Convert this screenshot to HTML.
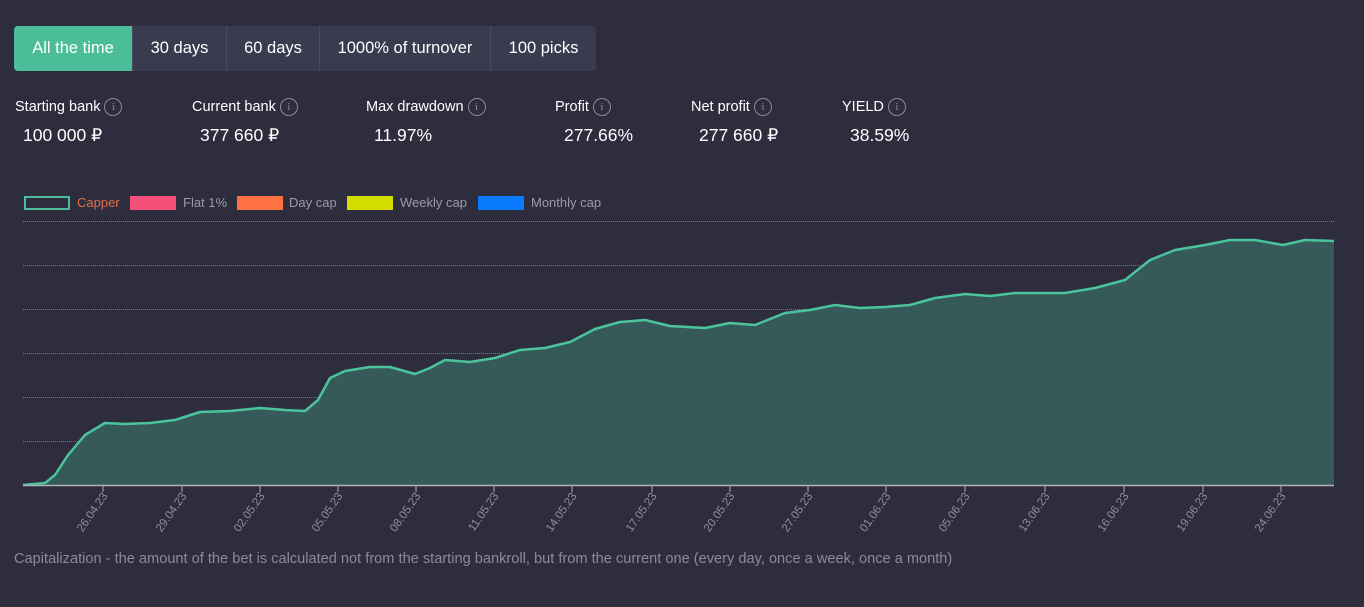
<!DOCTYPE html>
<html><head><meta charset="utf-8"><style>
body{margin:0;width:1364px;height:607px;background:#2d2d3e;font-family:"Liberation Sans",sans-serif;position:relative;overflow:hidden;color:#fff}
.tabs{position:absolute;left:14px;top:26px;height:45px;width:582px;background:#3a3b4e;border-radius:4px;display:flex;overflow:hidden}
.tab{height:45px;line-height:45px;font-size:16.5px;color:#fff;text-align:center;border-right:1px solid #4a4b5e;box-sizing:border-box}
.tab.on{background:#4bbd99}
.lab{position:absolute;top:98px;font-size:14.5px;color:#fff;white-space:nowrap;height:18px;display:flex;align-items:center}
.i{display:block;width:18px;height:18px;border:1px solid #8a8a9a;border-radius:50%;box-sizing:border-box;font-size:11px;line-height:16px;text-align:center;color:#8a8a9a;margin-left:4px;font-family:"Liberation Serif",serif}
.val{position:absolute;top:125px;font-size:17.5px;color:#fff;white-space:nowrap}
.leg{position:absolute;top:195px;font-size:13px;color:#9a9aa8;white-space:nowrap}
.sw{position:absolute;top:196px;width:46px;height:14px;box-sizing:border-box}
.foot{position:absolute;left:14px;top:551px;font-size:14.6px;color:#8a8a98}
</style></head><body>
<div class="tabs">
<div class="tab on" style="width:119px">All the time</div>
<div class="tab" style="width:94px">30 days</div>
<div class="tab" style="width:93px">60 days</div>
<div class="tab" style="width:171px">1000% of turnover</div>
<div class="tab" style="width:105px;border:none">100 picks</div>
</div>
<div class="lab" style="left:15px">Starting bank<span class="i">i</span></div>
<div class="lab" style="left:192px">Current bank<span class="i">i</span></div>
<div class="lab" style="left:366px">Max drawdown<span class="i">i</span></div>
<div class="lab" style="left:555px">Profit<span class="i">i</span></div>
<div class="lab" style="left:691px">Net profit<span class="i">i</span></div>
<div class="lab" style="left:842px">YIELD<span class="i">i</span></div>
<div class="val" style="left:23px">100 000 ₽</div>
<div class="val" style="left:200px">377 660 ₽</div>
<div class="val" style="left:374px">11.97%</div>
<div class="val" style="left:564px">277.66%</div>
<div class="val" style="left:699px">277 660 ₽</div>
<div class="val" style="left:850px">38.59%</div>

<div class="sw" style="left:24px;border:2px solid #4bbd99;background:#2d2d3e"></div><div class="leg" style="left:77px;color:#e0714a">Capper</div>
<div class="sw" style="left:130px;background:#f4507a"></div><div class="leg" style="left:183px">Flat 1%</div>
<div class="sw" style="left:237px;background:#ff7043"></div><div class="leg" style="left:289px">Day cap</div>
<div class="sw" style="left:347px;background:#d4dc00"></div><div class="leg" style="left:400px">Weekly cap</div>
<div class="sw" style="left:478px;background:#0a7aff"></div><div class="leg" style="left:531px">Monthly cap</div>

<svg style="position:absolute;left:0;top:0" width="1364" height="607">
<g stroke="#7a7a8a" stroke-dasharray="1,1" stroke-width="1">
<line x1="23" x2="1334" y1="221.5" y2="221.5"/><line x1="23" x2="1334" y1="265.5" y2="265.5"/><line x1="23" x2="1334" y1="309.5" y2="309.5"/><line x1="23" x2="1334" y1="353.5" y2="353.5"/><line x1="23" x2="1334" y1="397.5" y2="397.5"/><line x1="23" x2="1334" y1="441.5" y2="441.5"/>
</g>
<path fill="#365a5a" stroke="none" d="M23,485 L45,483 L55,475 L68,455 L85,435 L105,423 L125,424 L150,423 L175,420 L200,412 L230,411 L260,408 L285,410 L305,411 L318,400 L330,378 L345,371 L370,367 L390,367 L415,374 L430,368 L445,360 L470,362 L495,358 L520,350 L545,348 L570,342 L595,329 L620,322 L645,320 L670,326 L705,328 L730,323 L755,325 L785,313 L810,310 L835,305 L860,308 L885,307 L910,305 L935,298 L965,294 L990,296 L1015,293 L1040,293 L1065,293 L1095,288 L1125,280 L1150,260 L1175,250 L1205,245 L1230,240 L1255,240 L1283,245 L1305,240 L1334,241 L1334,485 Z"/>
<polyline fill="none" stroke="#4bc49c" stroke-width="2.5" stroke-linejoin="round" points="23,485 45,483 55,475 68,455 85,435 105,423 125,424 150,423 175,420 200,412 230,411 260,408 285,410 305,411 318,400 330,378 345,371 370,367 390,367 415,374 430,368 445,360 470,362 495,358 520,350 545,348 570,342 595,329 620,322 645,320 670,326 705,328 730,323 755,325 785,313 810,310 835,305 860,308 885,307 910,305 935,298 965,294 990,296 1015,293 1040,293 1065,293 1095,288 1125,280 1150,260 1175,250 1205,245 1230,240 1255,240 1283,245 1305,240 1334,241"/>
<line x1="23" x2="1334" y1="485.5" y2="485.5" stroke="#b0b0bc" stroke-width="1.5"/>
<g stroke="#b0b0bc" stroke-width="1">
<line x1="103" x2="103" y1="485" y2="492"/><line x1="182" x2="182" y1="485" y2="492"/><line x1="260" x2="260" y1="485" y2="492"/><line x1="338" x2="338" y1="485" y2="492"/><line x1="416" x2="416" y1="485" y2="492"/><line x1="494" x2="494" y1="485" y2="492"/><line x1="572" x2="572" y1="485" y2="492"/><line x1="652" x2="652" y1="485" y2="492"/><line x1="730" x2="730" y1="485" y2="492"/><line x1="808" x2="808" y1="485" y2="492"/><line x1="886" x2="886" y1="485" y2="492"/><line x1="965" x2="965" y1="485" y2="492"/><line x1="1045" x2="1045" y1="485" y2="492"/><line x1="1124" x2="1124" y1="485" y2="492"/><line x1="1203" x2="1203" y1="485" y2="492"/><line x1="1281" x2="1281" y1="485" y2="492"/>
</g>
<g fill="#8e8e9c" font-size="11.5" font-family="Liberation Sans,sans-serif" text-anchor="end">
<text transform="translate(108,496) rotate(-55)">26.04.23</text>
<text transform="translate(187,496) rotate(-55)">29.04.23</text>
<text transform="translate(265,496) rotate(-55)">02.05.23</text>
<text transform="translate(343,496) rotate(-55)">05.05.23</text>
<text transform="translate(421,496) rotate(-55)">08.05.23</text>
<text transform="translate(499,496) rotate(-55)">11.05.23</text>
<text transform="translate(577,496) rotate(-55)">14.05.23</text>
<text transform="translate(657,496) rotate(-55)">17.05.23</text>
<text transform="translate(735,496) rotate(-55)">20.05.23</text>
<text transform="translate(813,496) rotate(-55)">27.05.23</text>
<text transform="translate(891,496) rotate(-55)">01.06.23</text>
<text transform="translate(970,496) rotate(-55)">05.06.23</text>
<text transform="translate(1050,496) rotate(-55)">13.06.23</text>
<text transform="translate(1129,496) rotate(-55)">16.06.23</text>
<text transform="translate(1208,496) rotate(-55)">19.06.23</text>
<text transform="translate(1286,496) rotate(-55)">24.06.23</text>
</g>
</svg>
<div class="foot">Capitalization - the amount of the bet is calculated not from the starting bankroll, but from the current one (every day, once a week, once a month)</div>
</body></html>
